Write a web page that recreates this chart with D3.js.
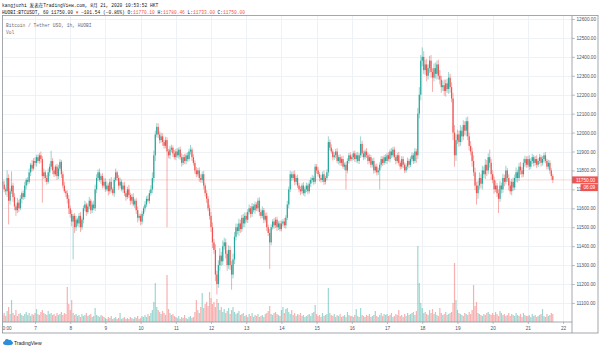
<!DOCTYPE html>
<html><head><meta charset="utf-8">
<script src="https://cdn.jsdelivr.net/npm/d3@7"></script>
<style>
body{margin:0;background:#fff}
svg{display:block}
text{font-family:"Liberation Mono","DejaVu Sans Mono","Noto Sans CJK SC",monospace}
text.ax{font-family:"Liberation Sans",Arial,sans-serif}
</style>
</head><body><svg id="c" width="600" height="348"></svg>
<script>
// hours counted from Aug 6 00:00; first visible candle
const firstHour = 2;
const firstOpen = 11740;
const closes = [
// 6
11725,11700,11690,11760,11640,11690,11720,11660,11610,11590,11630,11600,11650,11680,11660,11720,11750,11740,11790,11830,11810,11850,
// 7
11840,11870,11850,11880,11860,11770,11790,11760,11740,11790,11820,11850,11800,11780,11820,11770,11810,11845,11780,11720,11690,11680,11650,11600,
// 8
11570,11530,11560,11500,11540,11520,11560,11500,11540,11600,11620,11580,11610,11640,11590,11620,11600,11700,11760,11790,11750,11770,11720,11740,
// 9
11700,11720,11690,11740,11700,11680,11750,11790,11760,11720,11740,11700,11720,11680,11660,11700,11670,11640,11660,11620,11640,11590,11550,11560,
// 10
11530,11570,11600,11620,11650,11640,11680,11700,11760,11880,11990,12030,11990,11960,11980,11950,11930,11960,11900,11880,11910,11920,11890,11870,
// 11
11900,11880,11910,11870,11840,11870,11850,11880,11860,11900,11910,11870,11840,11800,11780,11800,11760,11750,11780,11720,11680,11650,11600,11560,
// 12
11500,11420,11380,11250,11200,11300,11350,11320,11400,11420,11360,11300,11380,11300,11250,11330,11450,11500,11480,11520,11490,11550,11520,11560,
// 13
11540,11580,11600,11570,11610,11590,11620,11600,11640,11580,11560,11590,11540,11560,11500,11470,11420,11500,11530,11510,11540,11500,11520,11490,
// 14
11520,11530,11510,11550,11620,11700,11780,11760,11780,11740,11760,11720,11700,11690,11720,11680,11700,11720,11690,11730,11750,11760,11740,11820,
// 15
11800,11780,11760,11750,11780,11740,11760,11790,11950,11920,11900,11870,11880,11900,11850,11870,11840,11860,11820,11830,11800,11850,11880,11860,
// 16
11870,11890,11860,11880,11850,11880,11940,11890,11870,11900,11880,11850,11870,11830,11850,11800,11820,11790,11800,11830,11860,11840,11870,11850,
// 17
11880,11860,11900,11880,11910,11870,11850,11880,11840,11820,11860,11830,11800,11820,11850,11830,11860,11880,11850,11900,11880,12100,12200,12380,
// 18
12400,12330,12360,12300,12340,12380,12320,12290,12340,12310,12360,12300,12280,12240,12250,12220,12260,12230,12290,12240,12180,12000,11880,11960,
// 19
11990,11950,12010,11980,12040,12010,12060,11980,11930,11900,11850,11790,11720,11680,11720,11760,11730,11800,11780,11830,11800,11870,11840,11780,
// 20
11750,11700,11720,11680,11650,11720,11700,11760,11740,11800,11760,11720,11690,11740,11710,11760,11790,11760,11820,11800,11780,11840,11860,11830,
// 21
11860,11820,11850,11870,11840,11860,11830,11850,11870,11840,11860,11880,11850,11820,11840,11800,11770.10,11750
];
const wickUp = [
15,20,10,40,20,15,75,15,20,10,25,15,20,10,15,20,10,15,20,10,25,15,
20,13,15,13,20,15,20,10,15,20,15,54,15,20,10,15,20,15,10,15,20,10,15,20,
15,20,10,15,20,10,15,20,10,15,20,10,15,20,10,15,20,25,20,15,20,10,15,20,
18,22,12,16,25,10,14,20,8,15,22,12,16,20,10,14,24,12,16,20,10,15,20,12,
12,15,10,18,14,20,16,22,30,25,20,20,18,15,20,16,12,18,15,14,20,16,12,18,
14,18,12,16,20,14,18,12,16,15,25,12,16,14,18,12,16,20,14,18,12,16,14,18,
20,25,18,30,20,25,40,20,30,25,20,18,25,20,22,30,25,20,18,25,20,15,20,18,
18,15,20,12,18,14,16,12,15,18,14,20,12,16,18,14,20,15,12,18,14,16,12,15,
15,12,18,14,20,15,18,14,16,20,12,18,14,16,12,18,14,16,12,18,14,16,12,15,
14,18,12,16,14,20,12,16,30,14,18,12,16,14,18,12,16,14,18,12,16,14,12,16,
14,12,16,14,18,12,40,16,14,12,18,14,16,12,14,18,12,16,14,12,16,14,12,16,
14,16,12,18,14,16,12,14,18,12,16,14,12,16,18,12,14,16,12,18,14,30,40,30,
50,30,25,30,20,25,30,20,25,30,20,25,30,20,25,30,20,25,30,20,25,30,40,30,
25,20,30,20,25,20,20,25,20,25,20,30,25,20,25,30,20,25,20,30,25,20,40,20,
22,18,26,14,20,24,16,22,18,25,14,20,24,16,22,18,26,14,20,24,16,22,18,14,
16,20,14,18,12,16,20,14,18,12,16,14,18,12,16,14,12,10.36
];
const wickDown = [
20,15,20,30,125,20,15,25,20,30,15,20,10,25,15,10,20,15,10,20,15,10,
15,20,10,15,20,140,15,20,15,10,20,15,20,15,10,20,15,10,20,15,10,20,25,30,
20,25,200,30,20,15,20,25,15,20,15,20,10,15,20,15,10,15,20,15,10,20,15,10,
14,10,22,15,18,12,20,10,15,22,14,10,18,15,20,12,16,22,15,10,18,20,25,15,
20,15,12,18,14,10,16,12,20,25,30,15,20,18,14,20,16,12,400,15,20,14,18,12,
16,12,18,14,20,12,16,18,14,12,16,20,14,18,16,12,20,14,16,20,18,22,15,20,
25,30,20,35,55,20,30,25,20,18,25,30,20,25,80,20,25,20,18,25,20,15,20,18,
14,18,12,20,15,12,18,14,16,20,15,12,18,14,20,16,140,15,12,18,14,20,15,12,
12,16,14,18,12,20,14,16,12,18,14,12,16,20,14,12,18,14,16,12,18,14,16,12,
16,12,18,14,12,16,14,12,20,16,12,18,14,16,12,18,14,16,12,18,100,16,14,12,
12,16,14,18,12,16,14,20,16,12,14,18,12,16,14,18,12,16,14,100,14,16,12,14,
16,12,18,14,12,16,18,12,14,16,12,18,14,12,16,18,12,14,16,12,40,20,25,30,
30,20,25,30,20,25,30,75,20,25,30,20,25,30,20,25,30,20,25,30,20,40,60,30,
20,25,20,30,20,25,30,20,25,20,30,20,25,60,30,20,25,30,20,25,30,20,25,30,
18,22,14,20,75,16,22,18,24,14,20,26,16,22,18,14,20,24,16,22,18,14,20,16,
14,18,12,16,20,14,18,12,16,20,14,18,12,16,14,18,20,17
];
const volumes = [
700,900,600,1100,1500,800,2200,900,700,1200,600,800,900,700,600,800,1000,700,900,600,800,700,
900,1300,800,700,1000,1200,900,800,700,1100,800,900,700,800,600,900,700,800,1000,700,900,800,3500,1800,
1200,2200,900,700,800,600,700,500,800,600,700,900,600,700,800,500,600,1400,700,600,500,700,600,500,
400,300,500,400,600,300,400,500,300,400,900,300,400,500,300,400,300,500,400,300,500,400,600,300,
400,600,500,700,500,800,600,900,1200,2000,3900,1500,1200,1000,800,1100,900,700,4700,1300,900,700,800,600,
500,400,600,300,500,400,700,400,300,500,600,400,500,1000,2200,1200,900,1500,2900,1400,1800,2000,1600,3000,
2400,1800,2000,1500,2300,1900,1200,1500,1000,1300,900,1100,1400,800,1200,1500,1000,800,900,1100,700,800,900,600,
700,500,800,600,900,500,700,600,800,500,600,700,500,800,900,1100,1600,800,700,900,1000,800,700,600,
1200,1500,900,1300,1400,1000,800,1200,700,900,600,800,700,900,600,700,500,600,700,800,600,900,1000,1700,
800,600,700,500,900,600,700,800,3400,900,700,600,800,500,700,600,800,500,600,700,500,1000,700,600,
600,500,700,1300,600,500,1400,700,600,500,700,600,800,500,600,700,1100,600,500,700,900,600,800,700,
800,600,700,900,500,600,800,700,1200,600,700,500,800,600,900,700,800,900,1000,700,1100,7600,3900,1900,
1400,900,1000,800,700,1200,900,1300,800,1000,700,600,1400,900,700,800,1000,700,800,900,1000,1900,5900,2200,
1200,900,800,700,600,900,800,700,1000,800,1200,3700,1600,2000,900,800,700,600,800,700,900,1000,800,700,
900,700,1000,800,600,1100,900,700,800,600,700,900,600,800,700,600,900,700,600,800,500,900,700,600,
600,700,500,800,600,700,500,600,700,800,1300,600,500,800,600,700,900,800
];
const dayLabels = ["7","8","9","10","11","12","13","14","15","16","17","18","19","20","21","22"];
const dayHours = [24,48,72,96,120,144,168,192,216,240,264,288,312,336,360,384];
const firstTimeLabel = "0:00";
const firstTimeHour = 5;
const priceTicks = [11100,11200,11300,11400,11500,11600,11700,11800,11900,12000,12100,12200,12300,12400,12500,12600];
const hiddenTick = 11700;       // mostly covered by the countdown box; only "11" shows
const lastPrice = 11750.00;
const countdown = "06:09";
const headerLine1 = "kangjuzhi 发表在TradingView.com, 8月 21, 2020 10:53:52 HKT";
const legendTitle = "Bitcoin / Tether USD, 1h, HUOBI";
const volLabel = "Vol";

const UP = "#26a69a", DOWN = "#ef5350";
const svg = d3.select("#c");
svg.append("rect").attr("width",600).attr("height",348).attr("fill","#fff");

const L = 2.5, R = 572, T = 16, B = 322;
const x = d3.scaleLinear().domain([1.84, 390.1]).range([L, R]);
const y = d3.scaleLinear().domain([10999.4, 12615.8]).range([B, T]);
const vy = d3.scaleLinear().domain([0, 8000]).range([B, B - 80]);

const data = closes.map((c, i) => {
  const o = i ? closes[i-1] : firstOpen;
  return {h: firstHour + i, o, c,
    hi: Math.max(o,c) + wickUp[i], lo: Math.min(o,c) - wickDown[i], v: volumes[i], up: c >= o};
});

svg.append("clipPath").attr("id","pc").append("rect").attr("x",L).attr("y",T).attr("width",R-L).attr("height",B-T);

// grid
const grid = svg.append("g").attr("clip-path","url(#pc)");
grid.selectAll(".hg").data(priceTicks).join("line")
  .attr("x1",L).attr("x2",R).attr("y1",d=>Math.round(y(d))+0.5).attr("y2",d=>Math.round(y(d))+0.5)
  .attr("stroke","#eef1f6").attr("stroke-width",1);
grid.selectAll(".vg").data(dayHours).join("line")
  .attr("y1",T).attr("y2",B).attr("x1",d=>Math.round(x(d))+0.5).attr("x2",d=>Math.round(x(d))+0.5)
  .attr("stroke","#eef1f6").attr("stroke-width",1);

const plot = svg.append("g").attr("clip-path","url(#pc)");
// volume
plot.selectAll(".vol").data(data).join("rect")
  .attr("x", d => x(d.h) - 0.6).attr("width", 1.2)
  .attr("y", d => vy(d.v)).attr("height", d => B - vy(d.v))
  .attr("fill", d => d.up ? UP : DOWN).attr("fill-opacity", 0.45);

// price line
plot.append("line").attr("x1",L).attr("x2",R).attr("y1",y(lastPrice)).attr("y2",y(lastPrice))
  .attr("stroke",DOWN).attr("stroke-opacity",0.6).attr("stroke-width",0.8).attr("stroke-dasharray","1,1");

// candles
const cg = plot.selectAll(".cdl").data(data).join("g");
cg.append("line").attr("x1",d=>x(d.h)).attr("x2",d=>x(d.h)).attr("y1",d=>y(d.hi)).attr("y2",d=>y(d.lo))
  .attr("stroke",d=>d.up?UP:DOWN).attr("stroke-width",0.6).attr("stroke-opacity",0.8);
cg.append("rect").attr("x",d=>x(d.h)-0.6).attr("width",1.2)
  .attr("y",d=>y(Math.max(d.o,d.c))).attr("height",d=>Math.max(0.8, y(Math.min(d.o,d.c)) - y(Math.max(d.o,d.c))))
  .attr("fill",d=>d.up?UP:DOWN);

// price axis
const fmt = d3.format(".2f");
const ya = d3.axisRight(y).tickValues(priceTicks).tickSize(3).tickPadding(1.5)
  .tickFormat(d => d === hiddenTick ? fmt(d).slice(0,2) : fmt(d));
const yg = svg.append("g").attr("transform",`translate(${R},0)`).call(ya);
yg.select(".domain").remove();
yg.selectAll("line").attr("stroke","#9598a1").attr("stroke-width",0.6);
yg.selectAll("text").attr("class","ax").attr("font-size",4.7).attr("fill","#4c525e");

// time axis
const xa = d3.axisBottom(x).tickValues(dayHours).tickSize(2).tickPadding(2.5).tickFormat((d,i)=>dayLabels[i]);
const xg = svg.append("g").attr("transform",`translate(0,${B})`).call(xa);
xg.select(".domain").remove();
xg.selectAll("line").attr("stroke","#9598a1").attr("stroke-width",0.6);
xg.selectAll("text").attr("class","ax").attr("font-size",4.7).attr("fill","#4c525e");
svg.append("text").attr("class","ax").attr("x",x(firstTimeHour)).attr("y",B+8.3).attr("text-anchor","middle")
  .attr("font-size",4.7).attr("fill","#4c525e").text(firstTimeLabel);

// last price label + countdown
const ly = y(lastPrice);
svg.append("rect").attr("x",R).attr("y",ly-3.5).attr("width",598-R).attr("height",7).attr("fill",DOWN);
svg.append("text").attr("class","ax").attr("x",R+4).attr("y",ly+1.7).attr("font-size",4.7).attr("fill","#fff").text(fmt(lastPrice));
svg.append("rect").attr("x",580.5).attr("y",ly+4.2).attr("width",598-580.5).attr("height",7).attr("fill",DOWN);
svg.append("text").attr("class","ax").attr("x",583.5).attr("y",ly+9.4).attr("font-size",4.7).attr("fill","#fff").text(countdown);

// frame
const fr = svg.append("g").attr("stroke","#8f929b").attr("stroke-width",0.8).attr("fill","none");
fr.append("rect").attr("x",L).attr("y",T-0.5).attr("width",598-L).attr("height",333-T+0.5);
fr.append("line").attr("x1",R).attr("x2",R).attr("y1",T).attr("y2",333);
fr.append("line").attr("x1",L).attr("x2",R).attr("y1",B).attr("y2",B);

// header
svg.append("text").attr("x",2).attr("y",7).attr("font-size",4.6).attr("fill","#131722").text(headerLine1);
const h2 = svg.append("text").attr("x",2).attr("y",13.6).attr("font-size",4.55).attr("fill","#131722");
h2.append("tspan").text("HUOBI:BTCUSDT, 60 11750.00 ");
h2.append("tspan").attr("fill",DOWN).text("▼");
h2.append("tspan").text(" −101.54 (−0.86%) O:");
h2.append("tspan").attr("fill",DOWN).text("11770.10");
h2.append("tspan").text(" H:");
h2.append("tspan").attr("fill",DOWN).text("11780.46");
h2.append("tspan").text(" L:");
h2.append("tspan").attr("fill",DOWN).text("11733.00");
h2.append("tspan").text(" C:");
h2.append("tspan").attr("fill",DOWN).text("11750.00");

// legend
svg.append("text").attr("x",6).attr("y",26.5).attr("font-size",4.6).attr("fill","#6a6d78").text(legendTitle);
svg.append("text").attr("x",6).attr("y",34).attr("font-size",4.6).attr("fill","#6a6d78").text(volLabel);

// logo
const lg = svg.append("g").attr("fill","#2e8fd8");
lg.append("ellipse").attr("cx",8).attr("cy",343).attr("rx",5).attr("ry",2.2);
lg.append("circle").attr("cx",7).attr("cy",341.2).attr("r",2.2);
lg.append("circle").attr("cx",9.8).attr("cy",341.6).attr("r",1.8);
svg.append("text").attr("class","ax").attr("x",14).attr("y",344.5)
  .attr("font-size",5).attr("fill","#131722").text("TradingView");
</script>
</body></html>
